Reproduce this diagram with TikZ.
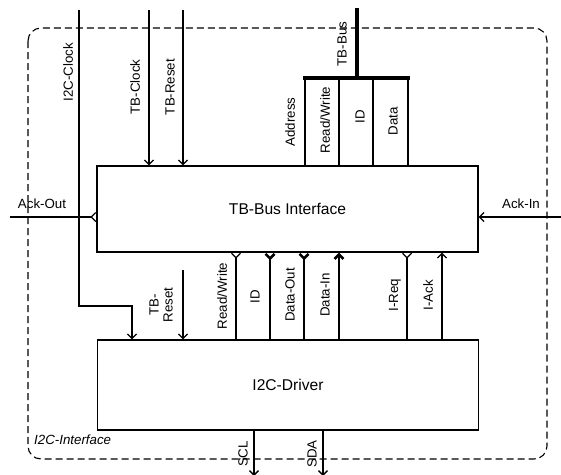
\documentclass[tikz,border=0pt]{standalone}
\usepackage{fontspec}
\setmainfont{Liberation Sans}
\usetikzlibrary{arrows.meta}
\begin{document}
\begin{tikzpicture}[x=1pt,y=-1pt,
  box/.style={draw,line width=1.2pt,minimum width=381pt,inner sep=0pt,font=\fontsize{15.6}{17}\selectfont},
  frame/.style={draw,line width=1.1pt,dash pattern=on 7pt off 4pt,rounded corners=13pt},
  sig/.style={line width=1.3pt},
  col/.style={line width=1.8pt},
  bus/.style={line width=3.2pt},
  fat/.style={line width=2.6pt},
  arr/.style={-{Straight Barb[length=4.5pt,width=9pt]}},
  rarr/.style={{Straight Barb[length=4.5pt,width=9pt,reversed]}-},
  earr/.style={-{Straight Barb[length=4.5pt,width=9pt,reversed]}},
  barr/.style={{Straight Barb[length=4.5pt,width=9pt]}-},
  lbl/.style={rotate=90,font=\fontsize{13.3}{14}\selectfont,inner sep=0pt},
  hlbl/.style={font=\fontsize{13.3}{14}\selectfont,inner sep=0pt}
]
\useasboundingbox (0,0) rectangle (561,474);
\draw[frame] (28,28) rectangle (547,459);

\node[box,minimum height=86pt] (tb) at (287.5,209) {TB-Bus Interface};
\node[box,minimum height=90pt] (drv) at (288,385) {I2C-Driver};

% free ends
\coordinate (ci2c) at (79,10);
\coordinate (cbend) at (132,306);
\coordinate (ctbclk) at (149,10);
\coordinate (ctbrst) at (183,10);
\coordinate (cbus) at (357,8);
\coordinate (cbusj) at (357,78);
\coordinate (caddr) at (305,78);
\coordinate (crw) at (339,78);
\coordinate (cid) at (373,78);
\coordinate (cdata) at (408,78);
\coordinate (ackL) at (10,217);
\coordinate (ackR) at (561,217);
\coordinate (xrw) at (236,0);
\coordinate (xid) at (270,0);
\coordinate (xdo) at (304,0);
\coordinate (xdi) at (339,0);
\coordinate (xreq) at (407,0);
\coordinate (xack) at (442,0);
\coordinate (rst2) at (183,270);
\coordinate (scl) at (254,476);
\coordinate (sda) at (323,476);

% top inputs
\draw[sig,arr] (ci2c) |- (cbend) -- (cbend |- drv.north);
\draw[sig,arr] (ctbclk) -- (ctbclk |- tb.north);
\draw[sig,arr] (ctbrst) -- (ctbrst |- tb.north);

% TB-Bus
\draw[bus] (cbus) -- (cbusj);
\draw[bus,line cap=rect] (caddr) -- (cdata);
\draw[col] (caddr) -- (caddr |- tb.north);
\draw[sig] (crw) -- (crw |- tb.north);
\draw[col] (cid) -- (cid |- tb.north);
\draw[col] (cdata) -- (cdata |- tb.north);

% Ack
\draw[sig,earr] (ackL) -- (ackL -| tb.west);
\draw[sig,arr] (ackR) -- (ackR -| tb.east);

% between boxes
\draw[sig,rarr] (xrw |- tb.south) -- (xrw |- drv.north);
\draw[fat,rarr] (xid |- tb.south) -- (xid |- drv.north);
\draw[fat,rarr] (xdo |- tb.south) -- (xdo |- drv.north);
\draw[fat,barr] (xdi |- tb.south) -- (xdi |- drv.north);
\draw[sig,rarr] (xreq |- tb.south) -- (xreq |- drv.north);
\draw[sig,barr] (xack |- tb.south) -- (xack |- drv.north);
\draw[sig,arr] (rst2) -- (rst2 |- drv.north);

% outputs
\draw[sig,arr] (scl |- drv.south) -- (scl);
\draw[sig,arr] (sda |- drv.south) -- (sda);

% labels
\node[lbl] (l1) at (68,72) {I2C-Clock};
\node[lbl] (l2) at (135,87) {TB-Clock};
\node[lbl] (l3) at (170,87) {TB-Reset};
\node[lbl] (l4) at (342,44) {TB-Bus};
\node[lbl] (l5) at (290,122) {Address};
\node[lbl] (l6) at (325,120) {Read/Write};
\node[lbl] (l7) at (360,117) {ID};
\node[lbl] (l8) at (393,121) {Data};
\node[hlbl] (l9) at (42,204) {Ack-Out};
\node[hlbl] (l10) at (521,204) {Ack-In};
\node[lbl,align=center] (l11) at (161,305) {TB-\\Reset};
\node[lbl] (l12) at (222,296) {Read/Write};
\node[lbl] (l13) at (255,297) {ID};
\node[lbl] (l14) at (290,295) {Data-Out};
\node[lbl] (l15) at (325,295) {Data-In};
\node[lbl] (l16) at (395,295) {I-Req};
\node[lbl] (l17) at (428,295) {I-Ack};
\node[lbl] (l18) at (243,454) {SCL};
\node[lbl] (l19) at (312,454) {SDA};
\node[hlbl,anchor=west,font=\fontsize{13.3}{14}\selectfont\itshape] (l20) at (34,440) {I2C-Interface};
\end{tikzpicture}
\end{document}
